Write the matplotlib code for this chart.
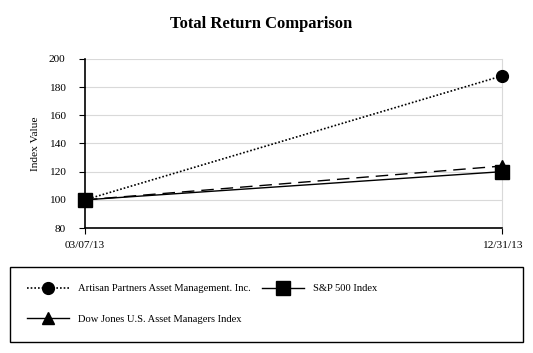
import matplotlib.pyplot as plt
from matplotlib.lines import Line2D
from matplotlib.patches import Rectangle

dates = ['03/07/13', '12/31/13']
artisan = [100, 188]
sp500 = [100, 120]
dow_jones = [100, 124]

plt.rcParams['font.family'] = ['Liberation Serif', 'DejaVu Serif']

fig = plt.figure(figsize=(5.33, 3.53), dpi=100)
ax = fig.add_axes([85 / 533, 1 - 228 / 353, (502 - 85) / 533, (228 - 59) / 353])

x = list(range(len(dates)))
l1, = ax.plot(x, artisan, color='black', linestyle=(0, (1, 1.2)), linewidth=1.2,
              marker='o', markersize=8.5, clip_on=False, zorder=3)
l2, = ax.plot(x, sp500, color='black', linestyle='-', linewidth=1.0,
              marker='s', markersize=9.5, clip_on=False, zorder=3)
l3, = ax.plot(x, dow_jones, color='black', linestyle=(0, (9, 5)), linewidth=1.0,
              marker='^', markersize=9, clip_on=False, zorder=3)

ax.set_xlim(0, 1)
ax.set_ylim(80, 200)
ax.set_yticks(range(80, 201, 20))
ax.set_xticks(x)
ax.set_xticklabels(dates)
ax.set_ylabel('Index Value', fontsize=8.2, labelpad=6)
ax.tick_params(axis='both', labelsize=8.2, direction='out', length=4, width=0.8, color='black')
ax.tick_params(axis='x', pad=5)
ax.tick_params(axis='y', pad=10)
ax.grid(axis='y', color='#d9d9d9', linewidth=0.8)
ax.set_axisbelow(True)
ax.spines['top'].set_visible(False)
ax.spines['right'].set_color('#d9d9d9')
ax.spines['left'].set_linewidth(1.2)
ax.spines['bottom'].set_linewidth(1.2)

fig.suptitle('Total Return Comparison', x=0.49, y=0.955, fontsize=12, fontweight='bold')

# legend frame
fig.patches.append(Rectangle((10 / 533, 1 - 342 / 353), 513 / 533, 75 / 353,
                             transform=fig.transFigure, fill=False, edgecolor='black', linewidth=1.0))

# dow jones legend handle drawn as long solid strokes like the original
dow_handle = Line2D([], [], color='black', linestyle='-', linewidth=1.0, marker='^', markersize=9)

leg = fig.legend([l1, dow_handle, l2],
                 ['Artisan Partners Asset Management. Inc.', 'Dow Jones U.S. Asset Managers Index',
                  'S&P 500 Index'],
                 loc='upper left', bbox_to_anchor=(27 / 533, 1 - 284 / 353),
                 ncol=2, fontsize=7.6, handlelength=4.0, handletextpad=0.85, frameon=False,
                 borderpad=0, labelspacing=2.0, columnspacing=1.0, borderaxespad=0)

fig.savefig('out.png', dpi=100)
